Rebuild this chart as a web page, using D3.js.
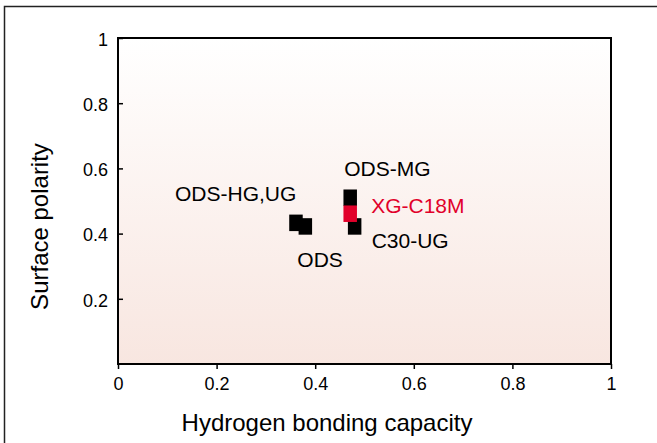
<!DOCTYPE html>
<html>
<head>
<meta charset="utf-8">
<script src="https://cdn.jsdelivr.net/npm/d3@7"></script>
<style>
  html, body { margin: 0; padding: 0; background: #ffffff; }
  svg { display: block; font-family: "Liberation Sans", Arial, sans-serif; }
</style>
</head>
<body>
<svg id="chart" width="657" height="443"></svg>
<script>
// ---- data ----
const columns = ["ODS-HG,UG", "ODS", "ODS-MG", "XG-C18M", "C30-UG"];
const hydrogenBonding = [0.361, 0.380, 0.471, 0.471, 0.480];
const surfacePolarity = [0.433, 0.422, 0.510, 0.461, 0.422];
const highlighted = [false, false, false, true, false];
const xTickValues = [0, 0.2, 0.4, 0.6, 0.8, 1];
const yTickValues = [0.2, 0.4, 0.6, 0.8, 1];

// ---- layout / style ----
const W = 657, H = 443;
const plot = { left: 118, right: 611, top: 38, bottom: 364 };
const markerW = 13.5, markerH = 16.5;
const black = "#000000", red = "#e1002a";
// label offsets (dx, dy) relative to the point centre
const labelPlacement = [
  { dx: -121, dy: -22 },
  { dx: -8,   dy: 41 },
  { dx: -6,   dy: -22 },
  { dx: 21,   dy: -1 },
  { dx: 17,   dy: 22 }
];

const svg = d3.select("#chart");

const x = d3.scaleLinear().domain([0, 1]).range([plot.left, plot.right]);
const y = d3.scaleLinear().domain([0, 1]).range([plot.bottom, plot.top]);

// outer frame (top and left edges)
svg.append("path")
  .attr("d", `M4.5,${H} L4.5,6.5 L${W},6.5`)
  .attr("fill", "none").attr("stroke", "#222").attr("stroke-width", 1.5);

// gradient background
const defs = svg.append("defs");
const grad = defs.append("linearGradient").attr("id", "bg")
  .attr("x1", 0).attr("y1", 0).attr("x2", 0).attr("y2", 1);
grad.append("stop").attr("offset", "0%").attr("stop-color", "#ffffff");
grad.append("stop").attr("offset", "100%").attr("stop-color", "#f8e6e0");

svg.append("rect")
  .attr("x", x(0)).attr("y", y(1))
  .attr("width", x(1) - x(0)).attr("height", y(0) - y(1))
  .attr("fill", "url(#bg)");

// axes
const xAxis = d3.axisBottom(x).tickValues(xTickValues)
  .tickFormat(d => d3.format("")(d)).tickSize(5).tickPadding(8);
const gx = svg.append("g").attr("transform", `translate(0,${plot.bottom})`).call(xAxis);
gx.select(".domain").remove();
gx.selectAll(".tick line").attr("stroke", black).attr("stroke-width", 1.5);
gx.selectAll(".tick text").attr("font-size", 18).attr("fill", black)
  .attr("font-family", "Liberation Sans, Arial, sans-serif");

const yAxis = d3.axisLeft(y).tickValues(yTickValues)
  .tickFormat(d => d3.format("")(d)).tickSize(-5).tickPadding(10);
const gy = svg.append("g").attr("transform", `translate(${plot.left},0)`).call(yAxis);
gy.select(".domain").remove();
gy.selectAll(".tick line").attr("stroke", black).attr("stroke-width", 1.5);
gy.selectAll(".tick text").attr("font-size", 18).attr("fill", black)
  .attr("font-family", "Liberation Sans, Arial, sans-serif")
  .attr("dy", "0.4em");

// plot frame
svg.append("rect")
  .attr("x", x(0)).attr("y", y(1))
  .attr("width", x(1) - x(0)).attr("height", y(0) - y(1))
  .attr("fill", "none").attr("stroke", black).attr("stroke-width", 2);

// points
const pts = columns.map((name, i) => ({
  name, hx: hydrogenBonding[i], sp: surfacePolarity[i], hl: highlighted[i], lp: labelPlacement[i]
}));
const drawOrder = [0, 1, 4, 2, 3];
svg.append("g").selectAll("rect")
  .data(drawOrder.map(i => pts[i]))
  .join("rect")
  .attr("x", d => x(d.hx) - markerW / 2)
  .attr("y", d => y(d.sp) - markerH / 2)
  .attr("width", markerW).attr("height", markerH)
  .attr("fill", d => d.hl ? red : black);

// labels
svg.append("g").selectAll("text")
  .data(pts)
  .join("text")
  .attr("x", d => x(d.hx) + d.lp.dx)
  .attr("y", d => y(d.sp) + d.lp.dy)
  .attr("font-size", 21)
  .attr("fill", d => d.hl ? red : black)
  .text(d => d.name);

// axis titles
svg.append("text")
  .attr("x", 327).attr("y", 431)
  .attr("text-anchor", "middle").attr("font-size", 24).attr("fill", black)
  .text("Hydrogen bonding capacity");

svg.append("text")
  .attr("transform", `translate(48,${226.5}) rotate(-90)`)
  .attr("text-anchor", "middle").attr("font-size", 24).attr("fill", black)
  .text("Surface polarity");
</script>
</body>
</html>
